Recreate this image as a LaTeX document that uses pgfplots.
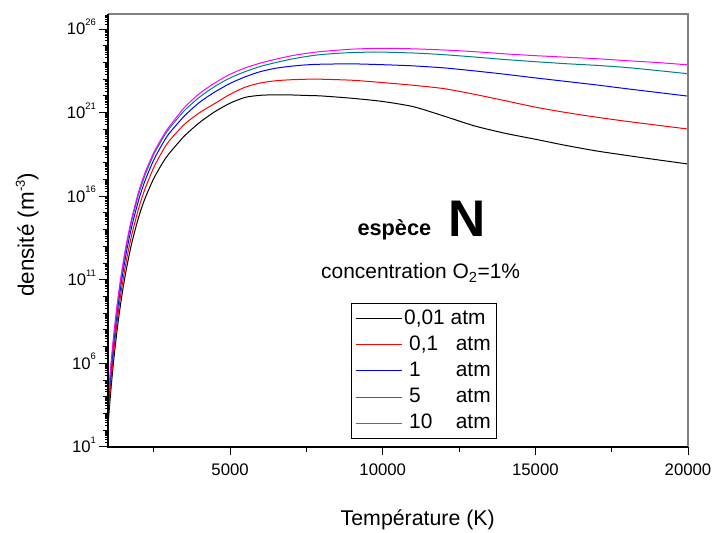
\documentclass[border=0pt]{standalone}
\usepackage{fontspec}
\setmainfont{Liberation Sans}
\usepackage{pgfplots}
\usepackage{pgfplotstable}
\pgfplotsset{compat=1.18}
\definecolor{oteal}{RGB}{0,128,128}
\definecolor{omag}{RGB}{255,0,255}
\definecolor{oframe}{RGB}{128,128,128}
\newcommand\sups[1]{\smash{\raisebox{9.3bp}{\fontsize{9.5}{10}\selectfont #1}}}
\def\subticks{}
\foreach \e in {1,...,25}{\foreach \m in {2,...,9}{\xdef\subticks{\subticks\m e\e,}}}
\xdef\subticks{\subticks 2e26,3e26,4e26,5e26,6e26,7e26}
% log10 of density (m^-3)
\pgfplotstableread{
T     a      b      c      d      e
1000  2.25   2.75   3.25   3.60   3.75
1050  3.44   3.94   4.44   4.79   4.94
1100  4.52   5.02   5.52   5.87   6.02
1150  5.51   6.01   6.51   6.86   7.01
1200  6.42   6.92   7.42   7.77   7.92
1300  8.02   8.52   9.02   9.37   9.52
1400  9.39   9.89   10.39  10.74  10.89
1500  10.58  11.08  11.58  11.93  12.08
1600  11.63  12.13  12.63  12.98  13.13
1700  12.54  13.04  13.54  13.89  14.04
1800  13.36  13.86  14.36  14.71  14.86
2000  14.73  15.25  15.75  16.10  16.25
2200  15.81  16.38  16.87  17.20  17.35
2500  17.07  17.72  18.18  18.50  18.62
2800  18.03  18.75  19.18  19.48  19.60
3000  18.55  19.30  19.75  20.03  20.15
3500  19.60  20.30  20.80  21.12  21.30
4000  20.41  21.00  21.62  21.93  22.15
4500  21.06  21.55  22.24  22.57  22.78
5000  21.57  22.10  22.75  23.08  23.30
5500  21.92  22.53  23.15  23.46  23.68
6000  22.04  22.78  23.46  23.77  23.97
6500  22.07  22.91  23.66  24.00  24.20
7000  22.06  22.97  23.78  24.20  24.40
7500  22.03  23.00  23.86  24.36  24.55
8000  22.00  23.00  23.90  24.48  24.66
9000  21.86  22.94  23.92  24.60  24.80
10000 21.67  22.80  23.87  24.62  24.85
11000 21.36  22.64  23.80  24.57  24.82
12000 20.80  22.44  23.68  24.47  24.75
13000 20.21  22.10  23.50  24.33  24.65
14000 19.77  21.72  23.30  24.18  24.52
15000 19.41  21.33  23.08  24.05  24.41
16000 19.04  21.01  22.87  23.93  24.32
17000 18.71  20.73  22.66  23.83  24.23
18000 18.44  20.48  22.43  23.70  24.11
19000 18.18  20.25  22.21  23.52  24.00
20000 17.93  20.02  21.99  23.33  23.86
}\data
\begin{document}
\begin{tikzpicture}
\useasboundingbox (0,0) rectangle (713bp,533bp);
\begin{axis}[
  name=ax,
  at={(108bp,86bp)}, anchor=south west,
  scale only axis, width=580bp, height=433bp,
  ymode=log,
  xmin=1000, xmax=20000,
  ymin=1e1, ymax=8e26,
  axis line style={draw=none},
  tick align=outside,
  xtick pos=bottom, ytick pos=left,
  tick style={black, line width=1bp},
  major tick length=8.5bp, minor tick length=5bp,
  scaled x ticks=false,
  xtick={5000,10000,15000,20000},
  xticklabels={5000,10000,15000,20000},
  minor xtick={2500,7500,12500,17500},
  ytick={1e1,1e6,1e11,1e16,1e21,1e26},
  yticklabels={10\sups{1},10\sups{6},10\sups{11},10\sups{16},10\sups{21},10\sups{26}},
  minor ytick={1e2,1e3,1e4,1e5,1e7,1e8,1e9,1e10,1e12,1e13,1e14,1e15,1e17,1e18,1e19,1e20,1e22,1e23,1e24,1e25},
  extra y ticks/.expanded={\subticks},
  extra y tick labels={},
  extra y tick style={major tick length=3bp, tick style={line width=0.7bp}},
  ticklabel style={font=\fontsize{16.8}{19}\selectfont, text=black},
  xticklabel style={yshift=-5bp},
  xlabel={Température (K)},
  ylabel={densité (m\smash{\raisebox{9bp}{\fontsize{13}{13}\selectfont -3}})},
  xlabel style={font=\fontsize{21.4}{25}\selectfont, at={(axis description cs:0.534,-0.1824)}, anchor=base},
  ylabel style={font=\fontsize{22.5}{26}\selectfont, at={(axis description cs:-0.128,0.49)}, anchor=base, rotate=0},
  legend style={at={(0.419,0.3326)}, anchor=north west, draw=black, line width=0.8bp,
    font=\fontsize{21}{25}\selectfont, inner sep=3.7bp, row sep=3.15bp,
    nodes={text height=15bp, text depth=4bp, inner sep=2bp}},
  legend cell align=left,
  legend image code/.code={\draw[#1] (0bp,0bp) -- (46bp,0bp);},
  every axis plot/.append style={line width=1bp, smooth, tension=0.4},
]
\addplot[black] table[x=T, y expr=10^\thisrow{a}] {\data};
\addlegendentry{0,01 atm}
\addplot[red] table[x=T, y expr=10^\thisrow{b}] {\data};
\addlegendentry{\hspace{5bp}\makebox[46.7bp][l]{0,1}atm}
\addplot[blue] table[x=T, y expr=10^\thisrow{c}] {\data};
\addlegendentry{\hspace{5bp}\makebox[46.7bp][l]{1}atm}
\addplot[oteal] table[x=T, y expr=10^\thisrow{d}] {\data};
\addlegendentry{\hspace{5bp}\makebox[46.7bp][l]{5}atm}
\addplot[omag] table[x=T, y expr=10^\thisrow{e}] {\data};
\addlegendentry{\hspace{5bp}\makebox[46.7bp][l]{10}atm}
\end{axis}
\draw[oframe, line width=1.5bp] (ax.south east) -- (ax.north east) -- (ax.north west);
\draw[black, line width=2bp] (ax.north west) -- (ax.south west) -- (ax.south east);
\node[anchor=base west, inner sep=0pt, font=\bfseries\fontsize{21.8}{26}\selectfont] at (357.3bp,297bp) {espèce};
\node[anchor=base west, inner sep=0pt, font=\bfseries\fontsize{51.7}{60}\selectfont] at (448bp,296bp) {N};
\node[anchor=base west, inner sep=0pt, font=\fontsize{21}{25}\selectfont] at (321bp,254bp) {concentration O\textsubscript{2}=1\%};
\end{tikzpicture}
\end{document}
